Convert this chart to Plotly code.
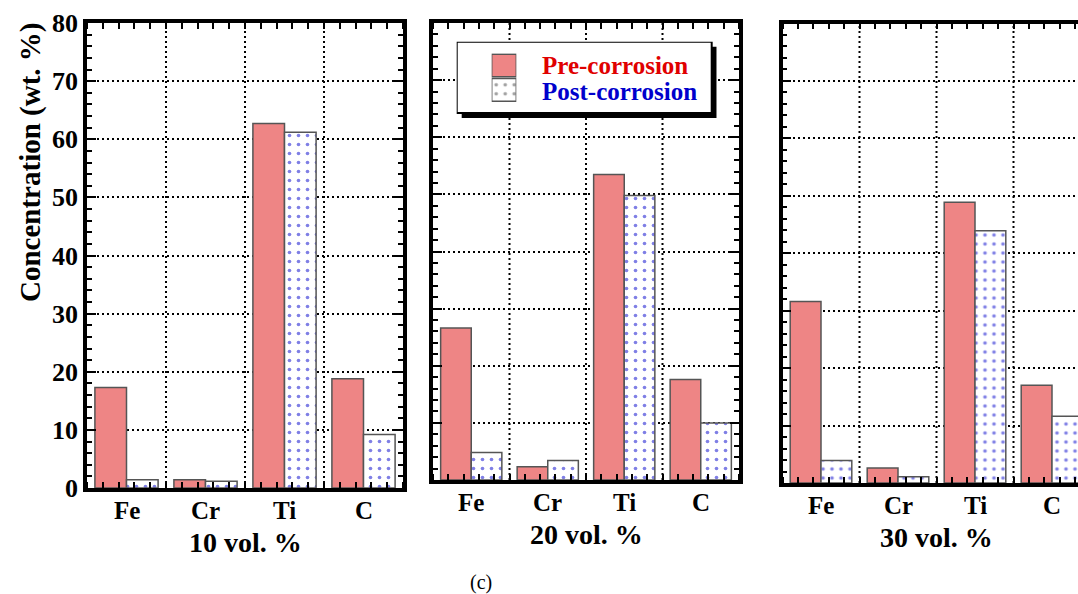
import numpy as np
import plotly.graph_objects as go

# ---- data -------------------------------------------------------------
categories = ["Fe", "Cr", "Ti", "C"]
panel_titles = ["10 vol. %", "20 vol. %", "30 vol. %"]
series_names = ["Pre-corrosion", "Post-corrosion"]

pre_10 = [17.3, 1.4, 62.7, 18.8]
post_10 = [1.4, 1.15, 61.2, 9.2]
pre_20 = [26.6, 2.3, 53.5, 17.6]
post_20 = [4.8, 3.4, 49.8, 10.0]
pre_30 = [31.6, 2.6, 48.9, 17.0]
post_30 = [3.9, 1.1, 43.9, 11.6]

y_ticks = [0, 10, 20, 30, 40, 50, 60, 70, 80]

# ---- style ------------------------------------------------------------
W, H = 1078, 594
FONT = "Liberation Serif"
PRE_COLOR = "#EE8585"
DOT_COLOR = "#0000CC"
EDGE = "#555555"
GRID_DASH = "2px,3px"
DOTS = dict(shape=".", fgcolor=DOT_COLOR, bgcolor="white", size=9, solidity=0.13)


def fx(p):
    return p / W


def fy(p):
    return 1 - p / H


def ax_suffix(k):
    return "" if k == 1 else str(k)


# panel frames in pixels: (left, right), (top, bottom), category width
panels = [
    dict(pre=pre_10, post=post_10, title=panel_titles[0], xs=(87, 403), ys=(23, 488), cw=79.0),
    dict(pre=pre_20, post=post_20, title=panel_titles[1], xs=(433, 739), ys=(23, 480), cw=76.5),
    dict(pre=pre_30, post=post_30, title=panel_titles[2], xs=(782.5, 1078), ys=(23.5, 483), cw=77.0),
]

n = len(categories)
pos = list(range(n))
minor_x = [float(v) for v in np.round(np.arange(-0.5, n - 0.5 + 1e-9, 0.2), 3)]
minor_y = list(range(0, 81, 2))
boundaries = [i + 0.5 for i in range(n - 1)]

fig = go.Figure()
layout = dict(
    width=W, height=H,
    margin=dict(l=0, r=0, t=0, b=0, autoexpand=False),
    paper_bgcolor="white", plot_bgcolor="white",
    barmode="group", bargap=0.2, bargroupgap=0.0,
    showlegend=False,
    font=dict(family=FONT, color="black"),
)
shapes = []
annotations = []

for k, p in enumerate(panels, start=1):
    s = ax_suffix(k)
    xn, yn = f"x{s}", f"y{s}"
    fig.add_trace(go.Bar(
        x=pos, y=p["pre"], name=series_names[0], xaxis=xn, yaxis=yn,
        marker=dict(color=PRE_COLOR, line=dict(color=EDGE, width=1.5)),
    ))
    fig.add_trace(go.Bar(
        x=pos, y=p["post"], name=series_names[1], xaxis=xn, yaxis=yn,
        marker=dict(color="white", line=dict(color=EDGE, width=1.5), pattern=DOTS),
    ))

    left, right = p["xs"]
    top, bottom = p["ys"]
    xmax = -0.5 + (right - left) / p["cw"]
    last = k == len(panels)

    layout[f"xaxis{s}"] = dict(
        domain=[fx(left), fx(right)], range=[-0.5, xmax], anchor=yn,
        automargin=False,
        tickmode="array", tickvals=pos, ticks="", showticklabels=False,
        showgrid=False, zeroline=False,
        showline=True, linecolor="black", linewidth=3.5, mirror="allticks",
        minor=dict(tickmode="array", tickvals=minor_x, ticks="inside",
                   ticklen=6, tickwidth=2, tickcolor="black", showgrid=False),
        fixedrange=True,
    )
    layout[f"yaxis{s}"] = dict(
        domain=[fy(bottom), fy(top)], range=[0, 80], anchor=xn,
        automargin=False,
        tickmode="array", tickvals=y_ticks, ticks="inside", ticklen=9,
        tickwidth=2, tickcolor="black",
        showgrid=True, gridcolor="black", gridwidth=2, griddash=GRID_DASH,
        zeroline=False,
        showline=True, linecolor="black", linewidth=3.5,
        mirror=False if last else "allticks",
        showticklabels=(k == 1),
        tickfont=dict(family=FONT, size=26, color="black", weight="bold"),
        minor=dict(tickmode="array", tickvals=minor_y, ticks="inside",
                   ticklen=5, tickwidth=2, tickcolor="black", showgrid=False),
        fixedrange=True,
    )

    for b in boundaries:
        shapes.append(dict(type="line", xref=xn, yref=f"{yn} domain",
                           x0=b, x1=b, y0=0, y1=1, layer="below",
                           line=dict(color="black", width=2, dash=GRID_DASH)))

    # category names under each group of bars
    for xi, cat in zip(pos, categories):
        annotations.append(dict(
            text=cat, xref=xn, x=xi, yref=f"{yn} domain", y=0,
            yshift=-22, xanchor="center", yanchor="middle", showarrow=False,
            font=dict(family=FONT, size=25, color="black", weight="bold"),
        ))

    annotations.append(dict(
        text=p["title"], xref=xn, x=(n - 1) / 2, yref=f"{yn} domain", y=0,
        yshift=-54, xanchor="center", yanchor="middle", showarrow=False,
        font=dict(family=FONT, size=28, color="black", weight="bold"),
    ))

# y-axis title
annotations.append(dict(
    text="Concentration (wt. %)", xref="paper", yref="paper",
    x=fx(30), y=fy(163), textangle=-90, showarrow=False,
    xanchor="center", yanchor="middle",
    font=dict(family=FONT, size=29, color="black", weight="bold"),
))

# figure label
annotations.append(dict(
    text="(c)", xref="paper", yref="paper", x=fx(481), y=fy(582),
    showarrow=False, xanchor="center", yanchor="middle",
    font=dict(family=FONT, size=20, color="black"),
))

# ---- legend box (its own hidden axes, in pixel units) ------------------
box_l, box_t, box_w, box_h, shadow = 456.7, 41.7, 255.0, 71.3, 5.0
layout["xaxis4"] = dict(domain=[fx(box_l), fx(box_l + box_w + shadow)],
                        range=[0, box_w + shadow], anchor="y4", visible=False,
                        automargin=False, fixedrange=True)
layout["yaxis4"] = dict(domain=[fy(box_t + box_h + shadow), fy(box_t)],
                        range=[box_h + shadow, 0], anchor="x4", visible=False,
                        automargin=False, fixedrange=True)
fig.add_trace(go.Scatter(x=[], y=[], xaxis="x4", yaxis="y4", hoverinfo="skip"))
shapes.append(dict(type="rect", xref="x4", yref="y4", layer="below",
                   x0=shadow, y0=shadow, x1=box_w + shadow, y1=box_h + shadow,
                   fillcolor="black", line=dict(width=0)))
shapes.append(dict(type="rect", xref="x4", yref="y4", layer="below",
                   x0=0, y0=0, x1=box_w, y1=box_h,
                   fillcolor="white", line=dict(color="black", width=2)))

# legend swatches
sw_l, sw_r, sw_t, sw_b = 491.7, 516.3, 53.3, 102.0
layout["xaxis5"] = dict(domain=[fx(sw_l), fx(sw_r)], range=[0, 1], anchor="y5",
                        visible=False, automargin=False, fixedrange=True)
layout["yaxis5"] = dict(domain=[fy(sw_b), fy(sw_t)], range=[-0.5, 1.5], anchor="x5",
                        visible=False, automargin=False, fixedrange=True)
fig.add_trace(go.Bar(
    x=[1, 1], y=[1, 0], orientation="h", width=0.93, xaxis="x5", yaxis="y5",
    marker=dict(color=[PRE_COLOR, "white"], line=dict(color=EDGE, width=1.5),
                pattern=dict(DOTS, shape=["", "."])),
    hoverinfo="skip",
))

legend_colors = ["#E00000", "#0000CC"]
legend_y = [65.2, 91.2]
for name, col, ly in zip(series_names, legend_colors, legend_y):
    annotations.append(dict(
        text=name, xref="paper", yref="paper", x=fx(540), y=fy(ly),
        xanchor="left", yanchor="middle", showarrow=False,
        font=dict(family=FONT, size=25, color=col, weight="bold"),
    ))

layout["shapes"] = shapes
layout["annotations"] = annotations
fig.update_layout(**layout)

fig.write_html("out.html")
